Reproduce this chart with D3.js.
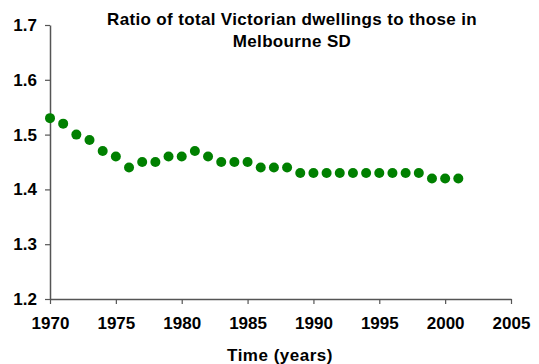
<!DOCTYPE html>
<html>
<head>
<meta charset="utf-8">
<script src="https://cdn.jsdelivr.net/npm/d3@7"></script>
<style>
  body { margin: 0; background: #fff; }
  text { font-family: Arial, "Liberation Sans", sans-serif; font-weight: bold; fill: #000; }
</style>
</head>
<body>
<div id="chart"></div>
<script>
const years = [1970, 1971, 1972, 1973, 1974, 1975, 1976, 1977, 1978, 1979, 1980,
  1981, 1982, 1983, 1984, 1985, 1986, 1987, 1988, 1989, 1990, 1991, 1992, 1993,
  1994, 1995, 1996, 1997, 1998, 1999, 2000, 2001];
const ratios = [1.53, 1.52, 1.50, 1.49, 1.47, 1.46, 1.44, 1.45, 1.45, 1.46, 1.46,
  1.47, 1.46, 1.45, 1.45, 1.45, 1.44, 1.44, 1.44, 1.43, 1.43, 1.43, 1.43, 1.43,
  1.43, 1.43, 1.43, 1.43, 1.43, 1.42, 1.42, 1.42];
const xTicks = [1970, 1975, 1980, 1985, 1990, 1995, 2000, 2005];
const yTicks = [1.2, 1.3, 1.4, 1.5, 1.6, 1.7];
const titleLines = ["Ratio of total Victorian dwellings to those in", "Melbourne SD"];
const xTitle = "Time (years)";

const width = 539, height = 364;
const dims = { left: 50, right: 28, top: 25, bottom: 65 };

const svg = d3.select("#chart").append("svg")
  .attr("width", width).attr("height", height);

const xScale = d3.scaleLinear([1970, 2005], [dims.left, width - dims.right]);
const yScale = d3.scaleLinear([1.2, 1.7], [height - dims.bottom, dims.top]);

const axisColor = "#555";

const xAxis = svg.append("g")
  .attr("transform", `translate(0 ${height - dims.bottom})`)
  .call(d3.axisBottom(xScale).tickValues(xTicks).tickFormat(d3.format("d")).tickSizeInner(5).tickSizeOuter(0).tickPadding(13));
const yAxis = svg.append("g")
  .attr("transform", `translate(${dims.left} 0)`)
  .call(d3.axisLeft(yScale).tickValues(yTicks).tickFormat(d3.format(".1f")).tickSizeInner(5).tickSizeOuter(0).tickPadding(8));

for (const ax of [xAxis, yAxis]) {
  ax.select(".domain").attr("stroke", axisColor).attr("stroke-width", 1.5);
  ax.selectAll(".tick line").attr("stroke", axisColor).attr("stroke-width", 1.2);
  ax.selectAll(".tick text").style("font-size", "17px").attr("fill", "#000");
}

svg.append("text")
  .attr("x", 280).attr("y", 361)
  .attr("text-anchor", "middle")
  .style("font-size", "17px")
  .style("letter-spacing", "0.5px")
  .text(xTitle);

svg.append("text")
  .attr("text-anchor", "middle")
  .style("font-size", "17px")
  .style("letter-spacing", "0.35px")
  .selectAll("tspan")
  .data(titleLines)
  .join("tspan")
    .attr("x", 292)
    .attr("y", (d, i) => 25 + i * 22)
    .text(d => d);

svg.append("g")
  .selectAll("circle")
  .data(years)
  .join("circle")
    .attr("cx", (d) => xScale(d))
    .attr("cy", (d, i) => yScale(ratios[i]))
    .attr("r", 5)
    .attr("fill", "#008000");
</script>
</body>
</html>
